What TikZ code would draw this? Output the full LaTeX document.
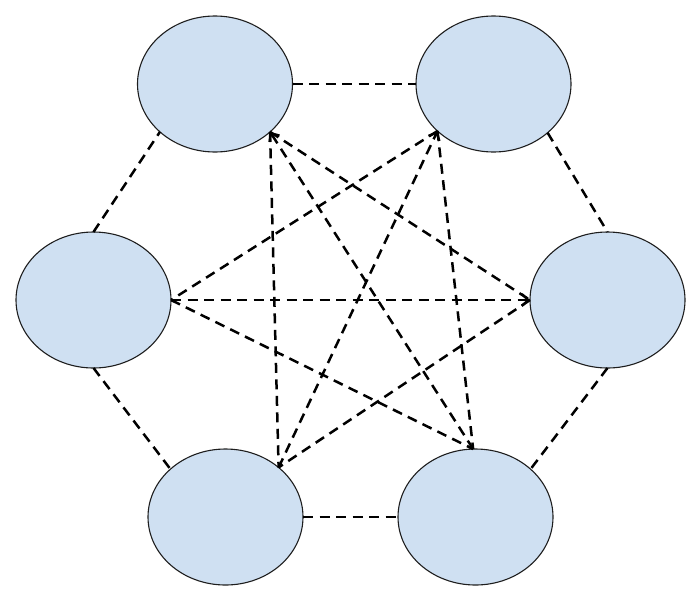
\documentclass[tikz,border=0pt]{standalone}
\usetikzlibrary{shapes.geometric,arrows.meta}
\definecolor{nodefill}{RGB}{207,224,242}
\definecolor{nodeline}{RGB}{30,30,30}
\begin{document}
\begin{tikzpicture}[x=1pt,y=-1pt,
  blob/.style={ellipse,draw=nodeline,line width=1.1pt,fill=nodefill,minimum width=155pt,minimum height=136pt,inner sep=0pt,outer sep=0pt},
  link/.style={line width=2.5pt,dash pattern=on 10pt off 6.5pt},
  arr/.style={link,-{Straight Barb[length=6.5pt,width=12pt,line width=2.3pt]}}]
\useasboundingbox (0,0) rectangle (700,600);
\node[blob] (tl) at (215,84) {};
\node[blob] (tr) at (493.5,84) {};
\node[blob] (l) at (93.5,300) {};
\node[blob] (r) at (607.5,300) {};
\node[blob] (bl) at (225.5,517) {};
\node[blob] (br) at (475.5,517) {};
% outer ring
\draw[link] (tl.east) -- (tr.west);
\draw[link] (l.north) -- (tl.221);
\draw[link] (tr.-42) -- (r.north);
\draw[link] (l.south) -- (bl.139);
\draw[link] (r.south) -- (br.41);
\draw[link] (bl.east) -- (br.west);
% inner links
\draw[link] (tl.-41) -- (bl.43);
\draw[link] (tl.-41) -- (r.west);
\draw[link] (tr.220) -- (l.east);
\draw[link] (tr.220) -- (br.92);
\draw[link] (l.east) -- (br.92);
\draw[link] (r.west) -- (bl.43);
% arrows
\draw[arr] (br.92) -- (tl.-41);
\draw[arr] (bl.43) -- (tr.220);
\draw[arr] (l.east) -- (r.west);
\end{tikzpicture}
\end{document}
